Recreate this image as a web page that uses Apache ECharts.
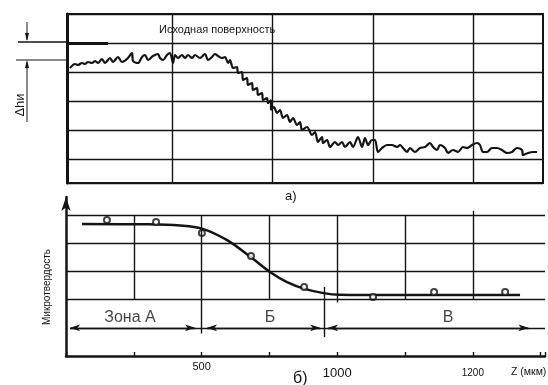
<!DOCTYPE html>
<html>
<head>
<meta charset="utf-8">
<script src="https://cdn.jsdelivr.net/npm/echarts@6/dist/echarts.min.js"></script>
<style>
html, body { margin: 0; padding: 0; background: #fff; }
#main { width: 548px; height: 385px; }
</style>
</head>
<body>
<div id="main"></div>
<script>
// а) профиль: [смещение вдоль поверхности, глубина от исходной поверхности]
const profile = [
  [3,25],[8,21],[11,22],[15,20],[18,21],[21,19],[25,20],[28,18],[31,20],[35,16],
  [38,20],[43,15],[46,19],[51,14],[55,19],[60,16],[65,10],[66,18],[71,20],[75,14],
  [78,12],[81,17],[86,13],[91,11],[93,15],[96,17],[100,12],[103,10],[106,20],[108,12],
  [111,15],[115,12],[118,15],[121,12],[125,15],[128,12],[133,15],[138,11],[141,17],[145,14],
  [148,11],[151,13],[155,15],[158,14],[161,20],[163,17],[166,25],[170,24],[171,30],[175,29],
  [176,37],[180,35],[181,42],[185,40],[186,47],[190,45],[191,52],[195,50],[196,57],[200,55],
  [201,60],[204,57],[204,67],[207,64],[210,70],[213,67],[216,75],[220,72],[223,79],[226,75],
  [230,82],[233,79],[235,87],[240,84],[245,92],[248,89],[251,99],[255,94],[256,100],[260,97],
  [263,104],[268,99],[271,102],[275,99],[278,104],[283,99],[286,104],[291,94],[295,104],[298,95],
  [301,102],[305,97],[308,97],[311,109],[315,105],[320,102],[325,102],[330,104],[333,102],[336,105],
  [340,109],[343,105],[348,109],[353,105],[358,104],[363,100],[366,104],[370,107],[373,102],[378,105],
  [381,110],[386,107],[391,109],[396,104],[400,105],[405,102],[410,100],[413,102],[416,109],[420,109],
  [425,105],[430,105],[435,107],[440,110],[445,109],[450,105],[455,107],[456,112],[461,110],[466,109],
  [470,109]
]
const profileGridX = [105, 205, 306, 406]

// б) микротвердость
const hardX = [151, 332, 501, 682, 878, 1132, 1357, 1619]
const hardY = [4.82, 4.75, 4.36, 3.55, 2.45, 2.09, 2.27, 2.27]
const curveX = [59, 300, 420, 501, 594, 682, 752, 815, 880, 950, 1010, 1100, 1674]
const curveY = [4.68, 4.67, 4.63, 4.52, 4.11, 3.5, 2.98, 2.62, 2.38, 2.23, 2.17, 2.16, 2.16]

const zoneNames = ['Зона А', 'Б', 'В']
const zoneLabelX = [236, 752, 1409]
const zoneLabelY = 1.38
const zoneSpans = [[15, 476], [520, 937], [966, 1705]]
const zoneBounds = [[501, 0.8], [951, 0.67]]

const gridYLines = [2, 3, 4, 5]
const gridXLines = [250, 500, 750, 1000, 1250, 1500]
const gridXFrom = [2, 0.8, 2, 1.9, 2, 2]
const gridXTo = [5, 5, 5, 5, 5, 5.15]

const tickValues = [500, 1000, 1500]
const tickLabels = ['500', '1000', '1200']

const ink = '#141414'
const font = 'Liberation Sans, Arial, sans-serif'

const chart = echarts.init(document.getElementById('main'))

const thin = { color: ink, width: 1.4, type: 'solid' }
const bottomMarks = []
gridYLines.forEach(y => bottomMarks.push([{ coord: [0, y] }, { coord: [1766, y] }]))
gridXLines.forEach((x, i) => bottomMarks.push([{ coord: [x, gridXFrom[i]] }, { coord: [x, gridXTo[i]] }]))
bottomMarks.push([{ coord: [15, 1] }, { coord: [1766, 1] }])
zoneSpans.forEach(s => bottomMarks.push([
  { coord: [s[0], 1], symbol: 'arrow', symbolSize: [5, 10] },
  { coord: [s[1], 1], symbol: 'arrow', symbolSize: [5, 10] }
]))
bottomMarks.push([{ coord: [zoneBounds[1][0], zoneBounds[1][1]] }, { coord: [zoneBounds[1][0], 2.45] }])

const richKeys = ['s', 'm', 'n']

chart.setOption({
  animation: false,
  textStyle: { fontFamily: font },
  title: [
    { text: 'а)', left: 285, top: 190, padding: 0, textStyle: { fontSize: 13, fontWeight: 'normal', color: ink, fontFamily: font } },
    { text: 'б)', left: 293, top: 371, padding: 0, textStyle: { fontSize: 16, fontWeight: 'normal', color: ink, fontFamily: font } }
  ],
  grid: [
    { left: 67, top: 14, width: 476, height: 169, show: true, borderColor: ink, borderWidth: 2 },
    { left: 66, top: 197, width: 479, height: 159 }
  ],
  xAxis: [
    { gridIndex: 0, type: 'value', min: 0, max: 476, show: false },
    {
      gridIndex: 1, type: 'value', min: 0, max: 1766, interval: 250,
      axisLine: { show: true, lineStyle: { color: ink, width: 2.5 } },
      axisTick: { show: true, inside: true, length: 4, lineStyle: { color: ink, width: 1.4 } },
      splitLine: { show: false },
      axisLabel: {
        margin: 5, color: ink,
        formatter: v => {
          const i = tickValues.indexOf(v)
          return i < 0 ? '' : '{' + richKeys[i] + '|' + tickLabels[i] + '}'
        },
        rich: {
          s: { fontSize: 11, lineHeight: 12, color: ink },
          m: { fontSize: 13, lineHeight: 24, color: ink },
          n: { fontSize: 10, lineHeight: 24, color: ink }
        }
      },
      name: 'Z (мкм)', nameLocation: 'end', nameGap: -34,
      nameTextStyle: { fontSize: 10.5, color: ink, align: 'left', verticalAlign: 'top', padding: [11, 0, 0, 0] }
    }
  ],
  yAxis: [
    {
      gridIndex: 0, type: 'value', inverse: true, min: -29, max: 140, interval: 29,
      axisLine: { show: true, lineStyle: { color: ink, width: 3 } },
      axisTick: { show: false }, axisLabel: { show: false },
      splitLine: { show: true, lineStyle: { color: ink, width: 1.4 } }
    },
    {
      gridIndex: 1, type: 'value', min: 0, max: 5.64,
      axisLine: { show: true, symbol: ['none', 'arrow'], symbolSize: [7, 14], lineStyle: { color: ink, width: 2.5 } },
      axisTick: { show: false }, axisLabel: { show: false }, splitLine: { show: false },
      name: 'Микротвердость', nameLocation: 'middle', nameGap: 14,
      nameTextStyle: { fontSize: 10, color: ink, padding: [0, 21, 0, 0] }
    }
  ],
  series: [
    {
      type: 'line', xAxisIndex: 0, yAxisIndex: 0, data: profile,
      showSymbol: false, smooth: 0.3,
      lineStyle: { color: ink, width: 2.2 },
      markLine: {
        silent: true, symbol: 'none', label: { show: false }, lineStyle: thin,
        data: profileGridX.map(x => ({ xAxis: x })).concat([
          [{ coord: [0, 0], lineStyle: { width: 3, color: ink, type: 'solid' } }, { coord: [41, 0] }]
        ])
      }
    },
    {
      type: 'line', xAxisIndex: 1, yAxisIndex: 1,
      data: curveX.map((x, i) => [x, curveY[i]]),
      showSymbol: false, smooth: 0.35,
      lineStyle: { color: ink, width: 2.5 },
      markLine: {
        silent: true, symbol: 'none', label: { show: false }, lineStyle: thin,
        data: bottomMarks
      }
    },
    {
      type: 'scatter', xAxisIndex: 1, yAxisIndex: 1,
      data: hardX.map((x, i) => [x, hardY[i]]),
      symbol: 'emptyCircle', symbolSize: 6,
      itemStyle: { color: ink, borderWidth: 1.6 }, z: 3
    },
    {
      type: 'scatter', xAxisIndex: 1, yAxisIndex: 1, symbolSize: 1,
      itemStyle: { color: 'rgba(0,0,0,0)' },
      data: zoneNames.map((n, i) => ({ value: [zoneLabelX[i], zoneLabelY], name: n })),
      label: { show: true, position: 'inside', formatter: p => p.name, fontSize: 16, color: ink, fontFamily: font }
    }
  ],
  graphic: [
    { type: 'text', left: 159, top: 24, style: { text: 'Исходная поверхность', fontSize: 11, fill: ink, fontFamily: font } },
    { type: 'line', shape: { x1: 18, y1: 42, x2: 67, y2: 42 }, style: { stroke: ink, lineWidth: 1.6 } },
    { type: 'line', shape: { x1: 16, y1: 60, x2: 67, y2: 60 }, style: { stroke: ink, lineWidth: 1 } },
    { type: 'line', shape: { x1: 27, y1: 22, x2: 27, y2: 40 }, style: { stroke: ink, lineWidth: 1 } },
    { type: 'polygon', shape: { points: [[25, 33], [29, 33], [27, 41]] }, style: { fill: ink } },
    { type: 'line', shape: { x1: 27, y1: 62, x2: 27, y2: 122 }, style: { stroke: ink, lineWidth: 1 } },
    { type: 'polygon', shape: { points: [[25, 68], [29, 68], [27, 60]] }, style: { fill: ink } },
    {
      type: 'text', x: 20, y: 105, rotation: Math.PI / 2,
      style: { text: 'Δhи', fontSize: 13, fill: ink, fontFamily: font, align: 'center', verticalAlign: 'middle' }
    }
  ]
})
</script>
</body>
</html>
